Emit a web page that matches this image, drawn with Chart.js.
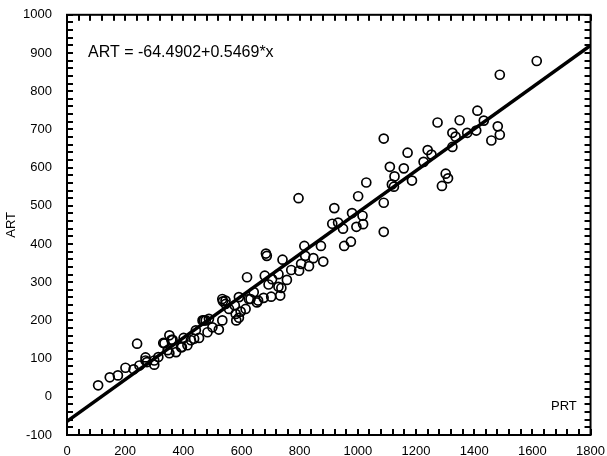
<!DOCTYPE html>
<html>
<head>
<meta charset="utf-8">
<script src="https://cdn.jsdelivr.net/npm/chart.js@4.4.1/dist/chart.umd.min.js"></script>
<style>
  html, body { margin: 0; padding: 0; background: #fff; }
  #wrap { width: 607px; height: 456px; position: relative; }
</style>
</head>
<body>
<div id="wrap"><canvas id="c"></canvas></div>
<script>
// PRT (x) and ART (y)
const prt = [
  107,147,175,201,229,241,249,270,275,270,300,300,314,331,335,346,352,352,359,363,
  375,392,395,401,414,426,437,443,454,466,471,477,483,488,500,522,534,534,536,545,
  545,557,577,580,582,591,591,597,614,619,625,631,642,653,657,676,680,684,687,693,
  702,705,727,727,733,737,741,756,771,796,798,805,816,819,832,847,873,881,912,919,
  932,949,953,976,980,995,1001,1016,1018,1029,1089,1089,1089,1110,1117,1124,1126,1158,1171,1186,
  1226,1240,1253,1274,1289,1302,1310,1325,1325,1336,1350,1376,1407,1411,1433,1459,1481,1488,1488,1615
];
const art = [
  30,51,56,76,72,139,82,103,91,95,84,95,104,141,140,122,161,114,149,149,
  117,130,130,154,135,148,152,174,154,200,200,200,169,204,182,176,200,256,250,243,
  252,230,239,217,200,261,207,223,230,313,256,256,274,247,252,259,317,375,369,294,
  262,308,321,288,265,285,359,306,332,520,330,348,395,369,342,363,395,354,453,494,
  456,440,395,406,481,445,525,474,452,561,676,508,432,602,556,550,577,598,639,566,
  615,646,634,718,552,584,572,691,654,681,724,691,697,749,723,671,708,686,843,879
];

// fitted line ART = -64.4902 + 0.5469*x, ends at the axis limits
const fitX = [0, 1800];
const fitY = [-64.49, 919.93];

// minor tick spacing on each axis (ticks point inward)
const xMinorStep = 40;
const yMinorStep = 20;

const equation = "ART = -64.4902+0.5469*x";
const FONT = "'Liberation Sans', Arial, sans-serif";

const frame = {
  id: "frame",
  afterDraw(chart) {
    const { ctx, chartArea: a } = chart;
    const xs = chart.scales.x, ys = chart.scales.y;
    const xr = (a.right - a.left) / (xs.max - xs.min);
    const yr = (a.bottom - a.top) / (ys.max - ys.min);
    const len = 6;
    ctx.save();
    ctx.fillStyle = "#000";
    for (let v = xs.min; v <= xs.max; v += xMinorStep) {
      const px = Math.round(a.left + (v - xs.min) * xr);
      ctx.fillRect(px - 1, a.bottom - len, 2, len);
      ctx.fillRect(px - 1, a.top, 2, len);
    }
    for (let v = ys.min; v <= ys.max; v += yMinorStep) {
      const py = Math.round(a.bottom - (v - ys.min) * yr);
      ctx.fillRect(a.left, py - 1, len, 2);
      ctx.fillRect(a.right - len, py - 1, len, 2);
    }
    ctx.strokeStyle = "#000";
    ctx.lineWidth = 2;
    ctx.strokeRect(a.left, a.top, a.right - a.left, a.bottom - a.top);

    ctx.textBaseline = "alphabetic";
    ctx.textAlign = "left";
    ctx.font = "16px " + FONT;
    ctx.fillText(equation, 88, 57);
    ctx.font = "13px " + FONT;
    ctx.fillText("PRT", 551, 410);
    ctx.restore();
  }
};

new Chart(document.getElementById("c"), {
  type: "scatter",
  data: {
    datasets: [
      {
        label: "fit",
        type: "line",
        data: fitX.map((x, i) => ({ x, y: fitY[i] })),
        borderColor: "#000",
        borderWidth: 3.5,
        pointRadius: 0,
        fill: false,
        order: 0
      },
      {
        label: "ART",
        data: prt.map((x, i) => ({ x, y: art[i] })),
        pointStyle: "circle",
        pointRadius: 4.5,
        pointBorderWidth: 1.7,
        pointBorderColor: "#000",
        pointBackgroundColor: "rgba(255,255,255,0)",
        order: 1
      }
    ]
  },
  options: {
    responsive: true,
    maintainAspectRatio: false,
    animation: false,
    layout: { padding: { top: 13, right: 13, left: 0, bottom: 0 } },
    plugins: { legend: { display: false }, tooltip: { enabled: false } },
    scales: {
      x: {
        type: "linear",
        min: 0, max: 1800,
        grid: { display: false },
        border: { display: false },
        ticks: {
          stepSize: 200, padding: 2, color: "#000", maxRotation: 0,
          font: { family: FONT, size: 13, lineHeight: 1 },
          callback: v => String(v)
        },
        afterFit(s) { s.height = 21; }
      },
      y: {
        type: "linear",
        min: -100, max: 1000,
        grid: { display: false },
        border: { display: false },
        ticks: {
          stepSize: 100, padding: 7, color: "#000",
          font: { family: FONT, size: 13 },
          callback: v => String(v)
        },
        title: { display: true, text: "ART", color: "#000", font: { family: FONT, size: 13 }, padding: { top: 4, bottom: 0 } },
        afterFit(s) { s.width = 67; }
      }
    }
  },
  plugins: [frame]
});
</script>
</body>
</html>
